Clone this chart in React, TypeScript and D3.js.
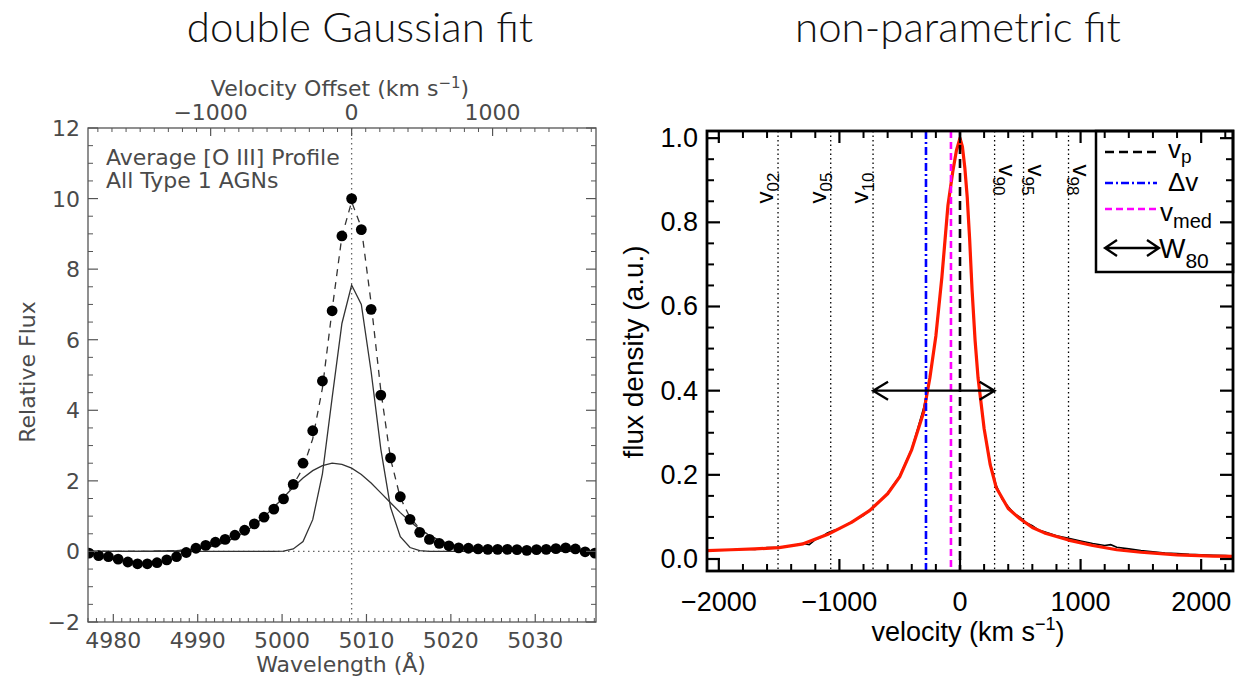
import React from "react";
import * as d3 from "d3";

const W = 1237;
const H = 680;

// ---------------- left panel: double Gaussian fit ----------------
const restWave = 5008.24;
const lightSpeed = 299792.458;
const waveDots = [4977.11, 4978.26, 4979.42, 4980.57, 4981.72, 4982.87, 4984.03, 4985.18, 4986.33, 4987.49, 4988.64, 4989.79, 4990.95, 4992.10, 4993.25, 4994.41, 4995.56, 4996.71, 4997.86, 4999.02, 5000.17, 5001.32, 5002.48, 5003.63, 5004.78, 5005.93, 5007.09, 5008.24, 5009.39, 5010.55, 5011.70, 5012.85, 5014.01, 5015.16, 5016.31, 5017.46, 5018.62, 5019.77, 5020.92, 5022.08, 5023.23, 5024.38, 5025.54, 5026.69, 5027.84, 5029.00, 5030.15, 5031.30, 5032.45, 5033.61, 5034.76, 5035.91, 5037.07];
const fluxDots = [-0.05, -0.12, -0.15, -0.22, -0.30, -0.35, -0.35, -0.32, -0.24, -0.15, -0.03, 0.09, 0.17, 0.26, 0.34, 0.46, 0.60, 0.78, 0.97, 1.20, 1.49, 1.90, 2.50, 3.42, 4.83, 6.82, 8.94, 10.0, 9.12, 6.86, 4.43, 2.65, 1.55, 0.91, 0.54, 0.34, 0.23, 0.16, 0.10, 0.09, 0.07, 0.06, 0.06, 0.06, 0.05, 0.03, 0.05, 0.06, 0.08, 0.10, 0.07, -0.01, -0.05];
const broadComp = [0, 0, 0, 0, 0, 0, 0.003, 0.007, 0.012, 0.022, 0.040, 0.067, 0.11, 0.17, 0.26, 0.39, 0.55, 0.74, 0.98, 1.25, 1.53, 1.82, 2.08, 2.29, 2.43, 2.50, 2.47, 2.36, 2.18, 1.94, 1.66, 1.38, 1.10, 0.85, 0.63, 0.45, 0.32, 0.21, 0.14, 0.084, 0.051, 0.030, 0.016, 0.008, 0.004, 0.002, 0.001, 0, 0, 0, 0, 0, 0];
const narrowComp = [0, 0, 0, 0, 0, 0, 0, 0, 0, 0, 0, 0, 0, 0, 0, 0, 0, 0, 0, 0, 0.01, 0.07, 0.28, 0.9, 2.2, 4.35, 6.46, 7.55, 7.0, 5.1, 2.9, 1.25, 0.42, 0.11, 0.02, 0, 0, 0, 0, 0, 0, 0, 0, 0, 0, 0, 0, 0, 0, 0, 0, 0, 0];
const totalFit = [0, 0, 0, 0, 0, 0, 0.003, 0.007, 0.012, 0.022, 0.04, 0.067, 0.11, 0.17, 0.26, 0.39, 0.55, 0.74, 0.98, 1.25, 1.54, 1.89, 2.36, 3.19, 4.63, 6.85, 8.93, 9.91, 9.18, 7.04, 4.56, 2.63, 1.52, 0.96, 0.65, 0.45, 0.32, 0.21, 0.14, 0.084, 0.051, 0.03, 0.016, 0.008, 0.004, 0.002, 0.001, 0, 0, 0, 0, 0, 0];
const leftXTicks = [4980, 4990, 5000, 5010, 5020, 5030];
const leftYTicks = [-2, 0, 2, 4, 6, 8, 10, 12];
const topVelTicks = [-1000, 0, 1000];

// ---------------- right panel: non-parametric fit ----------------
const fitVel = [-2100, -1900, -1700, -1500, -1300, -1100, -900, -750, -600, -500, -400, -300, -250, -200, -150, -100, -60, -30, 0, 20, 40, 60, 80, 100, 125, 150, 200, 250, 300, 400, 500, 600, 700, 900, 1100, 1300, 1500, 1800, 2100, 2270];
const fitFlux = [0.020, 0.022, 0.024, 0.027, 0.036, 0.058, 0.087, 0.115, 0.155, 0.195, 0.26, 0.35, 0.43, 0.53, 0.67, 0.84, 0.92, 0.97, 1.0, 0.98, 0.93, 0.86, 0.76, 0.64, 0.52, 0.43, 0.31, 0.225, 0.17, 0.12, 0.095, 0.075, 0.062, 0.045, 0.032, 0.022, 0.016, 0.010, 0.007, 0.006];
const obsVel = [-2100, -2000, -1900, -1800, -1700, -1600, -1500, -1400, -1300, -1250, -1200, -1150, -1100, -1050, -1000, -950, -900, -800, -750, -700, -600, -500, -400, -350, -300, -250, -200, -150, -100, -60, -30, 0, 20, 40, 60, 80, 100, 125, 150, 200, 250, 300, 350, 400, 450, 500, 550, 600, 650, 700, 800, 900, 1000, 1100, 1200, 1250, 1300, 1400, 1500, 1600, 1700, 1800, 1900, 2000, 2100, 2200, 2270];
const obsFlux = [0.021, 0.022, 0.021, 0.024, 0.023, 0.027, 0.028, 0.031, 0.037, 0.034, 0.046, 0.052, 0.062, 0.068, 0.072, 0.080, 0.088, 0.104, 0.116, 0.127, 0.157, 0.197, 0.262, 0.31, 0.36, 0.43, 0.53, 0.67, 0.84, 0.92, 0.97, 0.995, 0.98, 0.93, 0.86, 0.76, 0.64, 0.52, 0.43, 0.31, 0.228, 0.175, 0.142, 0.124, 0.108, 0.099, 0.086, 0.079, 0.069, 0.065, 0.055, 0.049, 0.043, 0.037, 0.032, 0.034, 0.028, 0.024, 0.020, 0.017, 0.014, 0.013, 0.011, 0.010, 0.009, 0.008, 0.007];
const percentileNames = ["02", "05", "10", "90", "95", "98"];
const percentileVel = [-1509, -1072, -721, 287, 527, 900];
const vPeak = 0;
const deltaV = -282;
const vMed = -75;
const w80Level = 0.4;
const rightXTicks = [-2000, -1000, 0, 1000, 2000];
const rightYTicks = [0, 0.2, 0.4, 0.6, 0.8, 1.0];

const leftFont = "'DejaVu Sans', Verdana, sans-serif";
const rightFont = "'Liberation Sans', Arial, Helvetica, sans-serif";
const titleFont = "Lato, 'Open Sans', sans-serif";
const gray = "#4a4a4a";

function LeftPanel() {
  const L = 88, R = 596, T = 128, B = 622;
  const x = d3.scaleLinear().domain([4977.0, 5037.2]).range([L, R]);
  const y = d3.scaleLinear().domain([-2, 12]).range([B, T]);
  const velToX = (v: number) => x(restWave * (1 + v / lightSpeed));
  const minorX = d3.range(4977, 5038, 1).filter((w) => !leftXTicks.includes(w));
  const minorY = d3.range(-2, 12.01, 0.5).filter((v) => !leftYTicks.includes(v));
  const minorV = d3.range(-1800, 1800, 100).filter((v) => !topVelTicks.includes(v)).filter((v) => velToX(v) > L && velToX(v) < R);
  const pts = waveDots.map((w, i) => ({ w, f: fluxDots[i], b: broadComp[i], n: narrowComp[i], t: totalFit[i] }));
  const lineOf = (key: "b" | "n" | "t") =>
    d3.line<any>().x((d) => x(d.w)).y((d) => y(d[key]))(pts) || "";
  const stroke = "#333";
  return (
    <g>
      <defs>
        <clipPath id="clipL"><rect x={L} y={T} width={R - L} height={B - T} /></clipPath>
      </defs>
      <text x={360} y={42} textAnchor="middle" fontFamily={titleFont} fontWeight={300} fontSize={42} fill="#111">double Gaussian fit</text>
      {/* reference lines */}
      <line x1={L} x2={R} y1={y(0)} y2={y(0)} stroke="#666" strokeWidth={1.3} strokeDasharray="1.5,3.5" />
      <line x1={x(restWave)} x2={x(restWave)} y1={T} y2={B} stroke="#666" strokeWidth={1.3} strokeDasharray="1.5,3.5" />
      <g clipPath="url(#clipL)">
        <path d={lineOf("b")} fill="none" stroke={stroke} strokeWidth={1.3} />
        <path d={lineOf("n")} fill="none" stroke={stroke} strokeWidth={1.3} />
        <path d={lineOf("t")} fill="none" stroke={stroke} strokeWidth={1.3} strokeDasharray="7,6" />
        {pts.map((d, i) => (
          <circle key={i} cx={x(d.w)} cy={y(d.f)} r={5.4} fill="#000" />
        ))}
      </g>
      {/* frame */}
      <rect x={L} y={T} width={R - L} height={B - T} fill="none" stroke="#555" strokeWidth={1.3} />
      {/* bottom ticks */}
      {leftXTicks.map((t) => (
        <g key={"bx" + t}>
          <line x1={x(t)} x2={x(t)} y1={B} y2={B - 8} stroke="#555" strokeWidth={1.2} />
          <text x={x(t)} y={648} textAnchor="middle" fontFamily={leftFont} fontSize={22} fill={gray}>{t}</text>
        </g>
      ))}
      {minorX.map((t) => (
        <line key={"mx" + t} x1={x(t)} x2={x(t)} y1={B} y2={B - 4} stroke="#555" strokeWidth={1} />
      ))}
      <text x={341} y={672} textAnchor="middle" fontFamily={leftFont} fontSize={22} fill={gray}>Wavelength (Å)</text>
      {/* top velocity axis */}
      {topVelTicks.map((v) => (
        <g key={"tv" + v}>
          <line x1={velToX(v)} x2={velToX(v)} y1={T} y2={T + 8} stroke="#555" strokeWidth={1.2} />
          <text x={velToX(v)} y={120} textAnchor="middle" fontFamily={leftFont} fontSize={22} fill={gray}>{v < 0 ? "\u2212" + Math.abs(v) : String(v)}</text>
        </g>
      ))}
      {minorV.map((v) => (
        <line key={"mv" + v} x1={velToX(v)} x2={velToX(v)} y1={T} y2={T + 4} stroke="#555" strokeWidth={1} />
      ))}
      <text x={340} y={96} textAnchor="middle" fontFamily={leftFont} fontSize={22} fill={gray}>
        Velocity Offset (km s<tspan dy={-8} fontSize={15}>−1</tspan><tspan dy={8}>)</tspan>
      </text>
      {/* y ticks */}
      {leftYTicks.map((t) => (
        <g key={"ly" + t}>
          <line x1={L} x2={L + 10} y1={y(t)} y2={y(t)} stroke="#555" strokeWidth={1.2} />
          <line x1={R} x2={R - 10} y1={y(t)} y2={y(t)} stroke="#555" strokeWidth={1.2} />
          <text x={80} y={y(t) + 8} textAnchor="end" fontFamily={leftFont} fontSize={22} fill={gray}>{t < 0 ? "\u2212" + Math.abs(t) : String(t)}</text>
        </g>
      ))}
      {minorY.map((t) => (
        <g key={"my" + t}>
          <line x1={L} x2={L + 5} y1={y(t)} y2={y(t)} stroke="#555" strokeWidth={1} />
          <line x1={R} x2={R - 5} y1={y(t)} y2={y(t)} stroke="#555" strokeWidth={1} />
        </g>
      ))}
      <text transform="translate(35,372) rotate(-90)" textAnchor="middle" fontFamily={leftFont} fontSize={22} fill={gray}>Relative Flux</text>
      {/* annotation */}
      <text x={106} y={165} fontFamily={leftFont} fontSize={22} fill={gray}>Average [O III] Profile</text>
      <text x={106} y={188} fontFamily={leftFont} fontSize={22} fill={gray}>All Type 1 AGNs</text>
    </g>
  );
}

function RightPanel() {
  const L = 707, R = 1233, T = 131, B = 571;
  const x = d3.scaleLinear().domain([-2098, 2264]).range([L, R]);
  const y = d3.scaleLinear().domain([-0.0285, 1.017]).range([B, T]);
  const minorX = d3.range(-2000, 2201, 200).filter((v) => !rightXTicks.includes(v));
  const minorY = d3.range(0, 1.001, 0.05).map((v) => +v.toFixed(2)).filter((v) => !rightYTicks.includes(v));
  const line = d3.line<[number, number]>().x((d) => x(d[0])).y((d) => y(d[1]));
  const fitPath = line(fitVel.map((v, i) => [v, fitFlux[i]] as [number, number])) || "";
  const obsPath = line(obsVel.map((v, i) => [v, obsFlux[i]] as [number, number])) || "";
  const fmt = d3.format(".1f");
  const aY = y(w80Level);
  const a1 = x(percentileVel[2]);
  const a2 = x(percentileVel[3]);
  const arrow = (x1: number, x2: number, yy: number, hl: number, hw: number) =>
    `M${x1},${yy}L${x2},${yy}M${x1 + hl},${yy - hw}L${x1},${yy}L${x1 + hl},${yy + hw}M${x2 - hl},${yy - hw}L${x2},${yy}L${x2 - hl},${yy + hw}`;
  const lgX1 = 1105, lgX2 = 1157;
  return (
    <g>
      <defs>
        <clipPath id="clipR"><rect x={L} y={T} width={R - L} height={B - T} /></clipPath>
      </defs>
      <text x={958} y={42} textAnchor="middle" fontFamily={titleFont} fontWeight={300} fontSize={42} fill="#111">non-parametric fit</text>
      <g clipPath="url(#clipR)">
        {percentileVel.map((v, i) => (
          <line key={"pv" + i} x1={x(v)} x2={x(v)} y1={T} y2={B} stroke="#000" strokeWidth={1.3} strokeDasharray="1.5,3" />
        ))}
        <path d={obsPath} fill="none" stroke="#000" strokeWidth={1.6} />
        <path d={fitPath} fill="none" stroke="#ff1a00" strokeWidth={3.2} strokeLinejoin="round" />
        <line x1={x(deltaV)} x2={x(deltaV)} y1={T} y2={B} stroke="#0000ff" strokeWidth={2.6} strokeDasharray="8,3,2,3" />
        <line x1={x(vMed)} x2={x(vMed)} y1={T} y2={B} stroke="#ff00ff" strokeWidth={2.6} strokeDasharray="7,4" />
        <line x1={x(vPeak)} x2={x(vPeak)} y1={T} y2={B} stroke="#000" strokeWidth={2.6} strokeDasharray="9,5" />
        <path d={arrow(a1, a2, aY, 15, 9)} fill="none" stroke="#000" strokeWidth={2.3} />
      </g>
      {percentileNames.map((n, i) => {
        const lx = x(percentileVel[i]);
        if (i < 3) {
          return (
            <text key={"pl" + i} transform={`translate(${lx - 5},188) rotate(-90)`} textAnchor="middle" fontFamily={rightFont} fontSize={24} fill="#000">
              v<tspan dy={6} fontSize={17}>{n}</tspan>
            </text>
          );
        }
        return (
          <text key={"pl" + i} transform={`translate(${lx + 4},180) rotate(90)`} textAnchor="middle" fontFamily={rightFont} fontSize={24} fill="#000">
            v<tspan dy={6} fontSize={17}>{n}</tspan>
          </text>
        );
      })}
      {/* legend */}
      <rect x={1096} y={T} width={R - 1096} height={272 - T} fill="#fff" stroke="#000" strokeWidth={2.5} />
      <line x1={lgX1} x2={lgX2} y1={152} y2={152} stroke="#000" strokeWidth={2.6} strokeDasharray="9,5" />
      <line x1={lgX1} x2={lgX2} y1={183} y2={183} stroke="#0000ff" strokeWidth={2.6} strokeDasharray="8,3,2,3" />
      <line x1={lgX1} x2={lgX2 + 3} y1={209} y2={209} stroke="#ff00ff" strokeWidth={2.6} strokeDasharray="7,4" />
      <path d={arrow(lgX1, lgX2 + 2, 248, 12, 8)} fill="none" stroke="#000" strokeWidth={2.3} />
      <text x={1168} y={158} fontFamily={rightFont} fontSize={26} fill="#000">v<tspan dy={5} fontSize={19}>p</tspan></text>
      <text x={1168} y={191} fontFamily={rightFont} fontSize={26} fill="#000">Δv</text>
      <text x={1160} y={221} fontFamily={rightFont} fontSize={26} fill="#000">v<tspan dy={7} fontSize={20}>med</tspan></text>
      <text x={1159} y={258} fontFamily={rightFont} fontSize={28} fill="#000">W<tspan dy={10} fontSize={21}>80</tspan></text>
      {/* frame */}
      <rect x={L} y={T} width={R - L} height={B - T} fill="none" stroke="#000" strokeWidth={2.8} />
      {rightXTicks.map((t) => (
        <g key={"rx" + t}>
          <line x1={x(t)} x2={x(t)} y1={B} y2={B - 12} stroke="#000" strokeWidth={2.2} />
          <line x1={x(t)} x2={x(t)} y1={T} y2={T + 12} stroke="#000" strokeWidth={2.2} />
          <text x={x(t)} y={611} textAnchor="middle" fontFamily={rightFont} fontSize={27} fill="#000">{t < 0 ? "\u2212" + Math.abs(t) : String(t)}</text>
        </g>
      ))}
      {minorX.map((t) => (
        <g key={"rmx" + t}>
          <line x1={x(t)} x2={x(t)} y1={B} y2={B - 7} stroke="#000" strokeWidth={2} />
          <line x1={x(t)} x2={x(t)} y1={T} y2={T + 7} stroke="#000" strokeWidth={2} />
        </g>
      ))}
      {rightYTicks.map((t) => (
        <g key={"ry" + t}>
          <line x1={L} x2={L + 13} y1={y(t)} y2={y(t)} stroke="#000" strokeWidth={2.2} />
          <line x1={R} x2={R - 13} y1={y(t)} y2={y(t)} stroke="#000" strokeWidth={2.2} />
          <text x={698} y={y(t) + 9} textAnchor="end" fontFamily={rightFont} fontSize={27} fill="#000">{fmt(t)}</text>
        </g>
      ))}
      {minorY.map((t) => (
        <g key={"rmy" + t}>
          <line x1={L} x2={L + 7} y1={y(t)} y2={y(t)} stroke="#000" strokeWidth={2} />
          <line x1={R} x2={R - 7} y1={y(t)} y2={y(t)} stroke="#000" strokeWidth={2} />
        </g>
      ))}
      <text x={968} y={641} textAnchor="middle" fontFamily={rightFont} fontSize={27} fill="#000">
        velocity (km s<tspan dy={-11} fontSize={18}>−1</tspan><tspan dy={11}>)</tspan>
      </text>
      <text transform="translate(643,352) rotate(-90)" textAnchor="middle" fontFamily={rightFont} fontSize={28} fill="#000">flux density (a.u.)</text>
    </g>
  );
}

export default function App() {
  return (
    <div style={{ position: "absolute", left: 0, top: 0, width: W, height: H, background: "#fff" }}>
      <svg width={W} height={H} viewBox={`0 0 ${W} ${H}`} style={{ display: "block" }}>
        <rect x={0} y={0} width={W} height={H} fill="#fff" />
        <LeftPanel />
        <RightPanel />
      </svg>
    </div>
  );
}
